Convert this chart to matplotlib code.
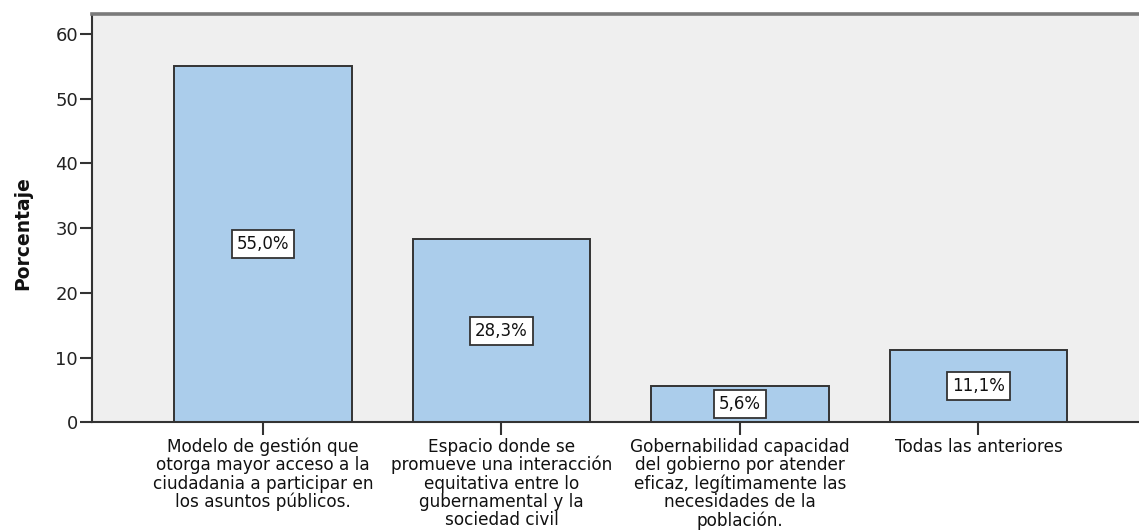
import matplotlib
matplotlib.use("Agg")
import matplotlib.pyplot as plt

categories = [
    "Modelo de gestión que\notorga mayor acceso a la\nciudadania a participar en\nlos asuntos públicos.",
    "Espacio donde se\npromueve una interacción\nequitativa entre lo\ngubernamental y la\nsociedad civil",
    "Gobernabilidad capacidad\ndel gobierno por atender\neficaz, legítimamente las\nnecesidades de la\npoblación.",
    "Todas las anteriores",
]
values = [55.0, 28.3, 5.6, 11.1]
value_labels = ["55,0%", "28,3%", "5,6%", "11,1%"]
yticks = [0, 10, 20, 30, 40, 50, 60]
ylabel = "Porcentaje"

plt.rcParams['font.family'] = ['DejaVu Sans']

W, H = 1139, 531
fig = plt.figure(figsize=(W / 100, H / 100), dpi=100)
fig.patch.set_facecolor('white')

left_px, right_px, top_px, bottom_px = 92, 1139, 14, 422.3
ax = fig.add_axes([left_px / W, (H - bottom_px) / H,
                   (right_px - left_px) / W, (bottom_px - top_px) / H])
ax.set_facecolor('#EFEFEF')

x = list(range(len(values)))
ax.bar(x, values, width=0.745, color='#ABCDEB', edgecolor='#333333',
       linewidth=1.4, zorder=2)

for xi, v, lab in zip(x, values, value_labels):
    ax.text(xi, v / 2, lab, ha='center', va='center', fontsize=12,
            color='#111111', zorder=4, clip_on=True,
            bbox=dict(boxstyle='square,pad=0.3', facecolor='white',
                      edgecolor='#333333', linewidth=1.3))

ax.set_xlim(-0.717, 3.673)
ax.set_ylim(0, 63.1)
ax.set_yticks(yticks)
ax.set_yticklabels([str(t) for t in yticks])
ax.set_xticks(x)
ax.set_xticklabels(categories, fontsize=12.2, linespacing=1.02,
                   va='top', ha='center')

ax.tick_params(axis='y', length=9, width=1.5, color='#333333', pad=1,
               labelsize=13, labelcolor='#222222')
ax.tick_params(axis='x', length=9, width=1.5, color='#333333', pad=2,
               labelcolor='#111111')

ax.spines['right'].set_visible(False)
ax.spines['top'].set_color('#7a7a7a')
ax.spines['top'].set_linewidth(2.6)
ax.spines['left'].set_color('#333333')
ax.spines['left'].set_linewidth(1.5)
ax.spines['bottom'].set_color('#333333')
ax.spines['bottom'].set_linewidth(1.5)
ax.spines['bottom'].set_zorder(5)

fig.text(23 / W, 1 - 233 / H, ylabel, rotation=90, ha='center', va='center',
         fontsize=13.5, fontweight='bold', color='#111111')

fig.savefig('out.png', dpi=100)
